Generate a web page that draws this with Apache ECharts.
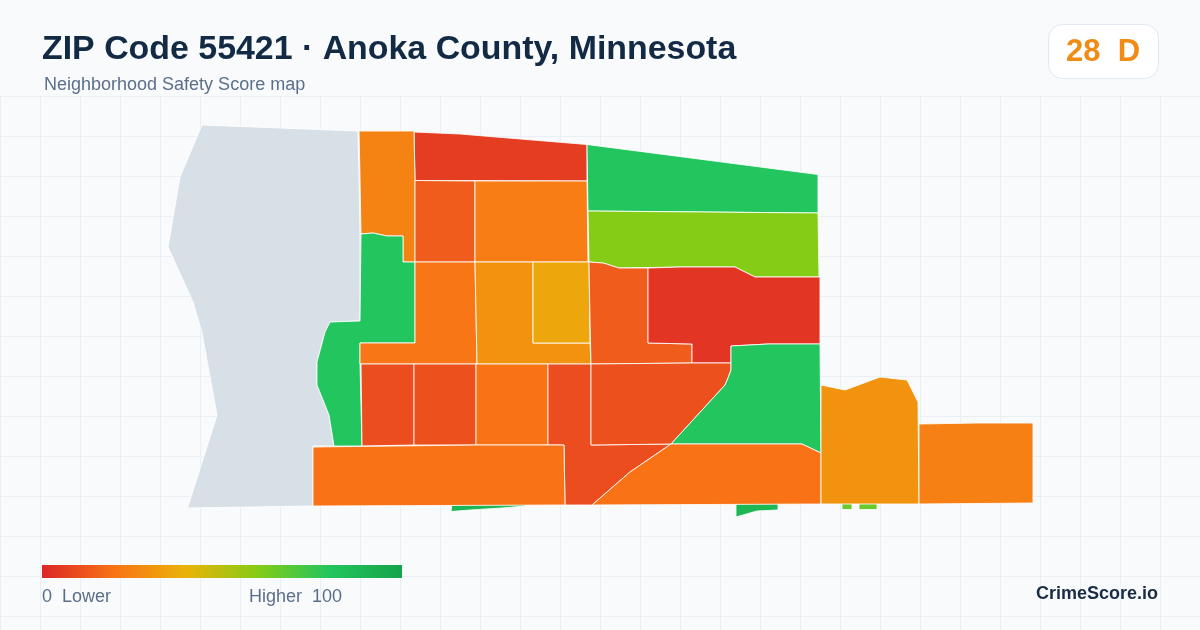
<!DOCTYPE html>
<html lang="en">

<head>
    <meta charset="UTF-8">
    <title>ZIP Code 55421 - Anoka County, Minnesota</title>
    <style>
        html, body { margin: 0; padding: 0; background: #f8fafc; }
        #main { width: 1200px; height: 630px; }
    </style>
</head>

<body>
    <div id="main"></div>

    <script src="https://cdn.jsdelivr.net/npm/echarts@6/dist/echarts.min.js"></script>
    <script>
        // score per tract. the grey tract has no score
        // slivers come first so the big tracts paint over their top edge
        var regionNames = [
            'sliverA', 'sliverB', 'sliverC', 'sliverD',
            'nodata', 'northRed', 'nwOrange', 'row2a', 'row2b', 'neGreen', 'limeBand', 'westGreen',
            'row3a', 'row3b', 'row3c', 'row3d', 'eastRed', 'row4a', 'row4b', 'row4c', 'central',
            'row4d', 'seGreen', 'southWest', 'southMid', 'eastBlock', 'farEast'
        ];
        var regionValues = [
            88, 88, 66, 66,
            null, 6, 25, 14, 23, 80, 60, 80,
            21, 30, 36, 14, 4, 10, 11, 20, 10,
            11, 80, 20, 20, 30, 24
        ];
        // tract outlines, same order as regionNames
        var regionShapes = [
            [[452, 503], [525, 503], [525, 506], [502, 508], [470, 510], [451, 511.5]],
            [[736, 503], [778, 503], [778, 510], [757, 511], [736, 517]],
            [[842, 502], [852, 502], [852, 509.5], [842, 509.5]],
            [[859, 502], [877, 502], [877, 509.5], [859, 509.5]],
            [[202, 125], [358, 131], [359, 178], [360, 234], [360, 321], [330, 322], [325, 332], [317, 362], [317, 385], [329, 415], [334, 446], [313, 446], [313, 506], [187.5, 508], [217, 415], [202, 333], [193, 302], [168, 247], [180, 177]],
            [[414, 132], [460, 134], [587, 144.5], [587, 181], [415, 180.5]],
            [[359, 131], [414, 131], [415, 180], [415, 262], [403, 262], [403, 236], [387, 236], [373, 233], [361, 234], [360, 178]],
            [[415, 180.5], [475, 181], [475, 262], [415, 262]],
            [[475, 181], [587, 181], [588, 262], [475, 262]],
            [[587, 144.5], [818, 174.5], [818, 213], [588, 211]],
            [[588, 211], [818, 213], [819, 277], [755, 277], [735, 267], [680, 267], [619, 268], [603, 263], [589, 262]],
            [[361, 234], [373, 233], [387, 236], [403, 236], [403, 262], [415, 262], [415, 343], [360, 343], [360, 364], [362, 446], [334, 446], [329, 415], [317, 385], [317, 362], [325, 332], [330, 322], [360, 321]],
            [[415, 262], [475, 262], [477, 364], [360, 364], [360, 343], [415, 343]],
            [[475, 262], [533, 262], [533, 343], [590, 343], [591, 364], [477, 364]],
            [[533, 262], [589, 262], [590, 343], [533, 343]],
            [[589, 262], [603, 263], [619, 268], [648, 268], [648, 343], [692, 344], [692, 363], [591, 364], [590, 320]],
            [[648, 268], [680, 267], [735, 267], [755, 277], [820, 277], [820, 344], [768, 344], [731, 346], [731, 363], [692, 363], [692, 344], [648, 343]],
            [[361, 364], [414, 364], [414, 445], [362, 446]],
            [[414, 364], [476, 364], [476, 445], [414, 445]],
            [[476, 364], [548, 364], [548, 445], [476, 445]],
            [[548, 364], [591, 364], [591, 445], [671, 444], [630, 472], [592, 505], [565, 505], [564, 445], [548, 445]],
            [[591, 364], [692, 363], [731, 363], [731, 370], [728, 378], [725, 385], [671, 444], [591, 445]],
            [[731, 346], [768, 344], [820, 344], [821, 453], [802, 444], [671, 444], [725, 385], [728, 378], [731, 370]],
            [[313, 447], [476, 445], [564, 445], [565, 505], [313, 506]],
            [[671, 444], [802, 444], [821, 453], [821, 504], [592, 505], [630, 472]],
            [[821, 385], [845, 390], [880, 377], [907, 380], [918, 402], [919, 504], [821, 504]],
            [[919, 424], [977, 423], [1033, 423], [1033, 503], [919, 504]]
        ];
        var scaleColors = ['#dc2626', '#f97316', '#eab308', '#84cc16', '#22c55e', '#16a34a'];
        var scaleRange = [0, 100];

        var titleText = 'ZIP Code 55421 · Anoka County, Minnesota';
        var subtitleText = 'Neighborhood Safety Score map';
        var badgeText = '28  D';
        var lowLabel = '0  Lower';
        var highLabel = 'Higher  100';
        var brandText = 'CrimeScore.io';

        var FONT = '"Liberation Sans", Arial, sans-serif';

        var mapFeatures = regionNames.map(function (name, i) {
            return {
                type: 'Feature',
                properties: { name: name },
                geometry: { type: 'Polygon', coordinates: [regionShapes[i].concat([regionShapes[i][0]])] }
            };
        });
        echarts.registerMap('zip55421', { type: 'FeatureCollection', features: mapFeatures });

        var mapData = regionNames.map(function (name, i) {
            return { name: name, value: regionValues[i] === null ? NaN : regionValues[i] };
        });

        // outlines are stored in page pixels, so the box is just their extent
        var allX = [], allY = [];
        regionShapes.forEach(function (shape) {
            shape.forEach(function (p) { allX.push(p[0]); allY.push(p[1]); });
        });
        var minX = Math.min.apply(null, allX), maxX = Math.max.apply(null, allX);
        var minY = Math.min.apply(null, allY), maxY = Math.max.apply(null, allY);

        // visualMap clips its bar with round corners, so the legend bar is a plain rect
        var barStops = scaleColors.map(function (c, i) {
            return { offset: i / (scaleColors.length - 1), color: c };
        });

        var gridLine = { show: true, lineStyle: { color: '#e9eff4', width: 1 } };

        var option = {
            backgroundColor: '#f8fafc',
            animation: false,
            title: [{
                text: titleText,
                left: 42, top: 33, padding: 0,
                textStyle: { fontFamily: FONT, fontSize: 33.9, fontWeight: 'bold', color: '#132a45' }
            }, {
                text: subtitleText,
                left: 44, top: 76, padding: 0,
                textStyle: { fontFamily: FONT, fontSize: 18, fontWeight: 'normal', color: '#5b6f8a' }
            }, {
                text: brandText,
                right: 42, top: 585, padding: 0,
                textStyle: { fontFamily: FONT, fontSize: 18, fontWeight: 'bold', color: '#1a2b45' }
            }],
            grid: { left: 0, top: 96, width: 1200, height: 534 },
            xAxis: {
                type: 'value', min: 0, max: 1200, interval: 40,
                axisLine: { show: false }, axisTick: { show: false }, axisLabel: { show: false },
                splitLine: gridLine
            },
            yAxis: {
                type: 'value', min: 0, max: 534, interval: 40, inverse: true,
                axisLine: { show: false }, axisTick: { show: false }, axisLabel: { show: false },
                splitLine: gridLine
            },
            visualMap: {
                type: 'continuous',
                show: false,
                seriesIndex: 0,
                min: scaleRange[0], max: scaleRange[1],
                inRange: { color: scaleColors }
            },
            series: [{
                type: 'map',
                map: 'zip55421',
                projection: {
                    project: function (p) { return p; },
                    unproject: function (p) { return p; }
                },
                left: minX, top: minY, width: maxX - minX, height: maxY - minY,
                roam: false, silent: true, selectedMode: false,
                label: { show: false },
                emphasis: { disabled: true },
                itemStyle: { areaColor: '#d8e0e7', borderColor: '#ffffff', borderWidth: 0.85 },
                data: mapData
            }],
            graphic: [{
                type: 'rect',
                z: 10,
                shape: { x: 1048.5, y: 24.5, width: 110, height: 54, r: 14 },
                style: { fill: '#ffffff', stroke: '#e2e8f0', lineWidth: 1 }
            }, {
                type: 'text',
                z: 11,
                x: 1103, y: 52,
                style: { text: badgeText, fontFamily: FONT, fontSize: 31, fontWeight: 'bold', fill: '#f08c14', align: 'center', verticalAlign: 'middle' }
            }, {
                type: 'rect',
                z: 10,
                shape: { x: 42, y: 565, width: 360, height: 13 },
                style: { fill: new echarts.graphic.LinearGradient(0, 0, 1, 0, barStops) }
            }, {
                type: 'text',
                z: 10,
                x: 42, y: 597,
                style: { text: lowLabel, fontFamily: FONT, fontSize: 18, fill: '#5b6f8a', align: 'left', verticalAlign: 'middle' }
            }, {
                type: 'text',
                z: 10,
                x: 249, y: 597,
                style: { text: highLabel, fontFamily: FONT, fontSize: 18, fill: '#5b6f8a', align: 'left', verticalAlign: 'middle' }
            }]
        };

        var myChart = echarts.init(document.getElementById('main'));
        myChart.setOption(option);
    </script>
</body>

</html>
